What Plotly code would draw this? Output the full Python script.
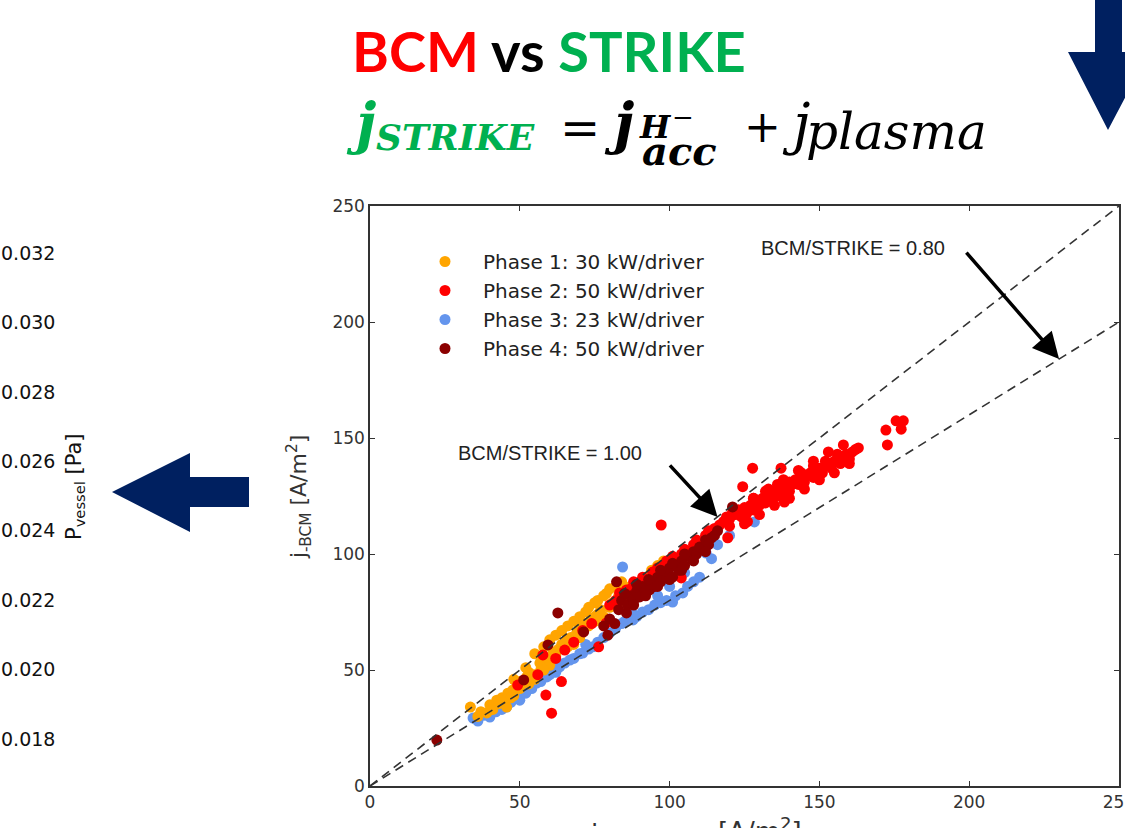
import plotly.graph_objects as go

W, H = 1125, 828

# ---------------------------------------------------------------- data
phase_names = ["Phase 1: 30 kW/driver", "Phase 2: 50 kW/driver",
               "Phase 3: 23 kW/driver", "Phase 4: 50 kW/driver"]
phase_colors = ["#FFA500", "#FF0000", "#6495ED", "#8B0000"]

# Phase 1 (30 kW/driver): j_STRIKE, j_BCM in A/m^2
p1_x = [33.5, 36, 37, 39, 40, 41, 42.3, 43, 44, 45.6, 46, 47.7, 48, 49, 50,
        51, 52.3, 53, 54, 55, 56.7, 57, 58, 59, 60, 61, 62, 63, 64, 65.6,
        66, 67, 68, 69, 70, 71, 72, 73, 74, 75, 76, 77, 78, 78.9, 80,
        81, 82, 83, 84, 85, 86, 87, 88, 90, 92, 94, 96, 98,
        50, 55, 60, 65, 70, 75, 44, 47, 53, 58, 62, 68,
        55, 58, 62, 66, 70, 72, 75, 76, 78, 80, 82, 84,
        60, 64, 68, 73, 52, 48]
p1_y = [34, 30, 32, 31.5, 35, 33, 37, 35.5, 38, 34, 40, 41.4, 39, 43, 42,
        45, 47, 44, 48, 46, 53, 50, 52, 55, 54, 57.3, 56, 59, 61, 63,
        60, 64, 62, 66, 68.5, 67, 70, 69, 72, 71, 74, 76, 73, 83, 77,
        79, 78, 82, 80, 84, 83, 86, 85, 88, 90, 93, 95, 97,
        45, 48, 52, 60, 64, 73, 36, 38, 49, 50, 58, 61,
        57, 60, 65, 69, 73, 75, 79, 80, 82, 85, 86, 88,
        63, 67, 71, 77, 51, 46]

# Phase 2 (50 kW/driver)
p2_x = [49.3, 57.7, 58.7, 60.6, 63.9, 65, 71, 76.3, 78.9, 103.9, 97.2, 127.7,
        137.2, 124.4, 138.3, 119.4, 172.2, 175.6, 178, 177.3, 172.7,
        56, 62, 68, 74,
        80, 82, 83.3, 85.6, 87, 88, 90, 91, 92, 94.3, 95, 96, 98, 99, 100,
        101, 102, 104, 105, 106, 108, 109, 110, 112, 113, 115,
        116.7, 118, 119, 120, 121, 122, 123, 124, 125, 126, 127, 128, 129,
        130, 131, 132, 133, 134, 135, 136, 137, 138, 139, 140, 141, 142, 143,
        144, 145, 146, 147, 148, 149, 150, 151, 152, 153, 154, 155, 156, 157,
        158, 159, 160, 161, 162, 163,
        128, 132, 136, 140, 144, 148, 152, 156, 120, 126,
        125, 130, 135, 140, 145, 150, 155, 160,
        123, 128, 133, 138, 143, 148, 153, 158]
p2_y = [43.5, 56.5, 39.2, 31.4, 45, 58.6, 67, 60, 70.3, 89.7, 112.5, 137,
        137, 129, 122.4, 107, 153.4, 157.4, 157.4, 153.8, 147,
        48, 55, 62, 70,
        78, 80, 83.2, 84.5, 85, 88, 87, 90, 89, 92.2, 91, 94, 95, 97, 96,
        99, 98, 100, 102, 101, 104, 106, 105, 108, 110, 111,
        112.5, 114, 116, 115, 118, 117, 119, 116, 120, 118, 121, 119, 123,
        121, 124, 122, 125, 123, 127, 125, 128, 126, 129, 127, 130, 132, 130,
        133, 131, 134, 135, 133, 136, 137, 135, 138, 139, 137, 140, 141, 139,
        142, 143, 141, 144, 145, 145.7,
        124, 127, 130, 131, 135, 138, 140, 143, 112, 114,
        113, 117, 121, 124, 128, 132, 135, 139,
        119, 124, 128, 132, 136, 140, 144, 147]

# Phase 3 (23 kW/driver)
p3_x = [34.4, 36, 38, 40, 42, 44, 45.6, 47, 49, 50, 52, 54, 55.6, 57, 59,
        61, 62, 63.3, 65, 66.7, 68, 70, 71, 73, 74.4, 76, 78, 80, 82, 84,
        85, 87.8, 89, 91, 93, 95, 97, 99, 101, 102, 104.4, 106, 108, 110,
        112.2, 114, 128.3, 84.3, 60, 72, 88, 100, 96, 105, 116, 120]
p3_y = [29.3, 28, 30.5, 29.7, 32, 33, 34, 36, 38, 37, 40, 42, 44.4, 45, 47,
        50, 49, 51.3, 53, 54.3, 55, 57, 57.3, 59, 60, 62, 64, 66, 68, 70,
        71, 71.6, 73, 75, 76, 78, 79, 80, 79.3, 82, 83.2, 86, 88, 90,
        100.4, 98, 113.8, 94.4, 48, 61, 74, 86, 82, 92, 104, 108]

# Phase 4 (50 kW/driver)
p4_x = [22.3, 51.3, 59.4, 62.7, 71.3, 79.4, 81.7, 82.3, 85.6, 78, 80, 83, 84,
        86, 87, 88, 89, 90, 91, 92, 93.3, 94, 95, 96, 97, 98, 99, 100, 101,
        102, 103, 104, 105, 106, 107.7, 108, 109, 110, 111.7, 112, 113, 114,
        115, 116, 121, 85, 89, 93, 97, 101, 105,
        88, 92, 96, 100, 104, 108, 112]
p4_y = [19.8, 45.7, 60.8, 74.6, 66.4, 65, 70, 88, 74.6, 69, 72, 76, 80,
        78, 82, 80, 84, 81.5, 86, 84, 84.5, 88, 86, 90, 88, 92, 90, 94, 90,
        95, 93, 97, 95, 99, 97.4, 101, 100, 103, 103, 106, 104, 107,
        108, 110, 120.3, 83, 87, 89, 93, 96, 100,
        78, 82, 86, 89, 93, 97, 101]

phase_x = [p1_x, p2_x, p3_x, p4_x]
phase_y = [p1_y, p2_y, p3_y, p4_y]

# BCM/STRIKE reference ratios and the j_STRIKE where each label arrow lands
ratios = [1.00, 0.80]
ratio_arrow_x = [116, 230]

x_ticks = [0, 50, 100, 150, 200, 250]
y_ticks = [0, 50, 100, 150, 200, 250]
p_ticks = [0.018, 0.020, 0.022, 0.024, 0.026, 0.028, 0.030, 0.032]
p_range = [0.016646, 0.033354]


def px(x):
    return x / W


def py(y):
    return 1 - y / H


fig = go.Figure()

# draw order: phase 3 underneath, then 1, 2, 4
for i in [2, 0, 1, 3]:
    fig.add_trace(go.Scatter(
        x=phase_x[i], y=phase_y[i], mode="markers", name=phase_names[i],
        marker=dict(color=phase_colors[i], size=11, line=dict(width=0)),
        legendrank=i + 1, legendgroup=f"g{i}"))

for r in ratios:
    fig.add_trace(go.Scatter(
        x=[0, 250], y=[0, 250 * r], mode="lines", showlegend=False,
        line=dict(color="#333333", width=1.6, dash="9px,6px")))

axis_common = dict(
    showgrid=False, zeroline=False, showline=True, linecolor="#333333",
    linewidth=1.5, mirror="ticks", ticks="inside", ticklen=5, tickwidth=1.2,
    tickcolor="#333333", automargin=False, ticklabeloverflow="allow",
    tickfont=dict(family="DejaVu Sans", size=17, color="#333333"))

fig.update_layout(
    width=W, height=H, autosize=False,
    margin=dict(l=0, r=0, t=0, b=0, pad=0, autoexpand=False),
    paper_bgcolor="white", plot_bgcolor="white",
    xaxis=dict(domain=[px(370), px(1119)], range=[0, 250],
               tickvals=x_ticks, **axis_common),
    yaxis=dict(domain=[py(786), py(206)], range=[0, 250],
               tickvals=y_ticks, **axis_common),
    yaxis2=dict(overlaying="y", anchor="free", position=0, side="right",
                range=p_range, tickvals=p_ticks, automargin=False,
                ticktext=[f"{v:.3f}" for v in p_ticks],
                ticklabeloverflow="allow",
                showgrid=False, zeroline=False, showline=False, ticks="",
                tickfont=dict(family="DejaVu Sans", size=19, color="#111111")),
    legend=dict(x=px(407), y=py(242), xanchor="left", yanchor="top",
                bgcolor="rgba(0,0,0,0)", itemwidth=66, tracegroupgap=0,
                font=dict(family="DejaVu Sans", size=20, color="#222222")),
    showlegend=True,
)

# keep an invisible trace on the secondary pressure axis
fig.add_trace(go.Scatter(x=[None], y=[None], yaxis="y2", showlegend=False,
                         hoverinfo="skip"))

annotations = []


def ann(text, x, y, size, color="black", family="DejaVu Serif",
        xanchor="left", yanchor="middle", angle=0):
    annotations.append(dict(
        text=text, x=px(x), y=py(y), xref="paper", yref="paper",
        xanchor=xanchor, yanchor=yanchor, showarrow=False, textangle=angle,
        font=dict(family=family, size=size, color=color)))


# headline
ann("<b><span style='color:#FF0000'>BCM</span> vs "
    "<span style='color:#00B050'>STRIKE</span></b>",
    549, 50, 56, family="Lato", xanchor="center")

# current balance equation
green = "#00B050"
ann("<b><i>j</i></b>", 344, 123, 56, green)
ann("<b><i>STRIKE</i></b>", 374, 137, 36, green)
ann("=", 558, 128, 48)
ann("<b><i>j</i></b>", 602, 123, 56)
ann("<b><i>H</i></b>", 637, 127, 32)
ann("−", 670, 117, 26)
ann("<b><i>acc</i></b>", 640, 150, 40)
ann("+", 742, 126, 44)
ann("<i>j</i>", 780, 123, 56)
ann("<i>plasma</i>", 804, 132, 50)

# axis titles
ann("j<sub>-BCM</sub> [A/m<sup>2</sup>]", 299, 497, 22, "#333333",
    family="DejaVu Sans", xanchor="center", angle=-90)
ann("P<sub>vessel</sub> [Pa]", 75, 487, 21, "#111111",
    family="DejaVu Sans", xanchor="center", angle=-90)
ann("j<sub>STRIKE</sub>", 588, 817, 26, "#333333",
    family="DejaVu Sans", yanchor="top")
ann("[A/m<sup>2</sup>]", 716, 811, 26, "#333333",
    family="DejaVu Sans", yanchor="top")

# ratio labels with arrows onto their dashed lines
label_pos = [(550, 453), (853, 248)]
arrow_tail = [(-49, -53), (-94, -108)]
for r, hx, (lx, ly), (ax, ay) in zip(ratios, ratio_arrow_x, label_pos,
                                     arrow_tail):
    ann(f"BCM/STRIKE = {r:.2f}", lx, ly, 20, "#222222",
        family="Liberation Sans", xanchor="center")
    annotations.append(dict(
        x=hx, y=r * hx, xref="x", yref="y", text="", showarrow=True,
        ax=ax, ay=ay, axref="pixel", ayref="pixel", arrowhead=2,
        arrowsize=1.5, arrowwidth=3.5, arrowcolor="black"))

fig.update_layout(annotations=annotations)

# navy block arrows
navy = "#002060"


def poly(points):
    return "M " + " L ".join(f"{px(x)},{py(y)}" for x, y in points) + " Z"


left_arrow = [(112, 492), (190, 453), (190, 477), (249, 477), (249, 507),
              (190, 507), (190, 532)]
down_arrow = [(1095, -5), (1122, -5), (1122, 52), (1149, 52), (1108, 130),
              (1068, 52), (1095, 52)]
fig.update_layout(shapes=[
    dict(type="path", path=poly(left_arrow), xref="paper", yref="paper",
         fillcolor=navy, line=dict(width=0)),
    dict(type="path", path=poly(down_arrow), xref="paper", yref="paper",
         fillcolor=navy, line=dict(width=0)),
])

fig.write_html("out.html")
